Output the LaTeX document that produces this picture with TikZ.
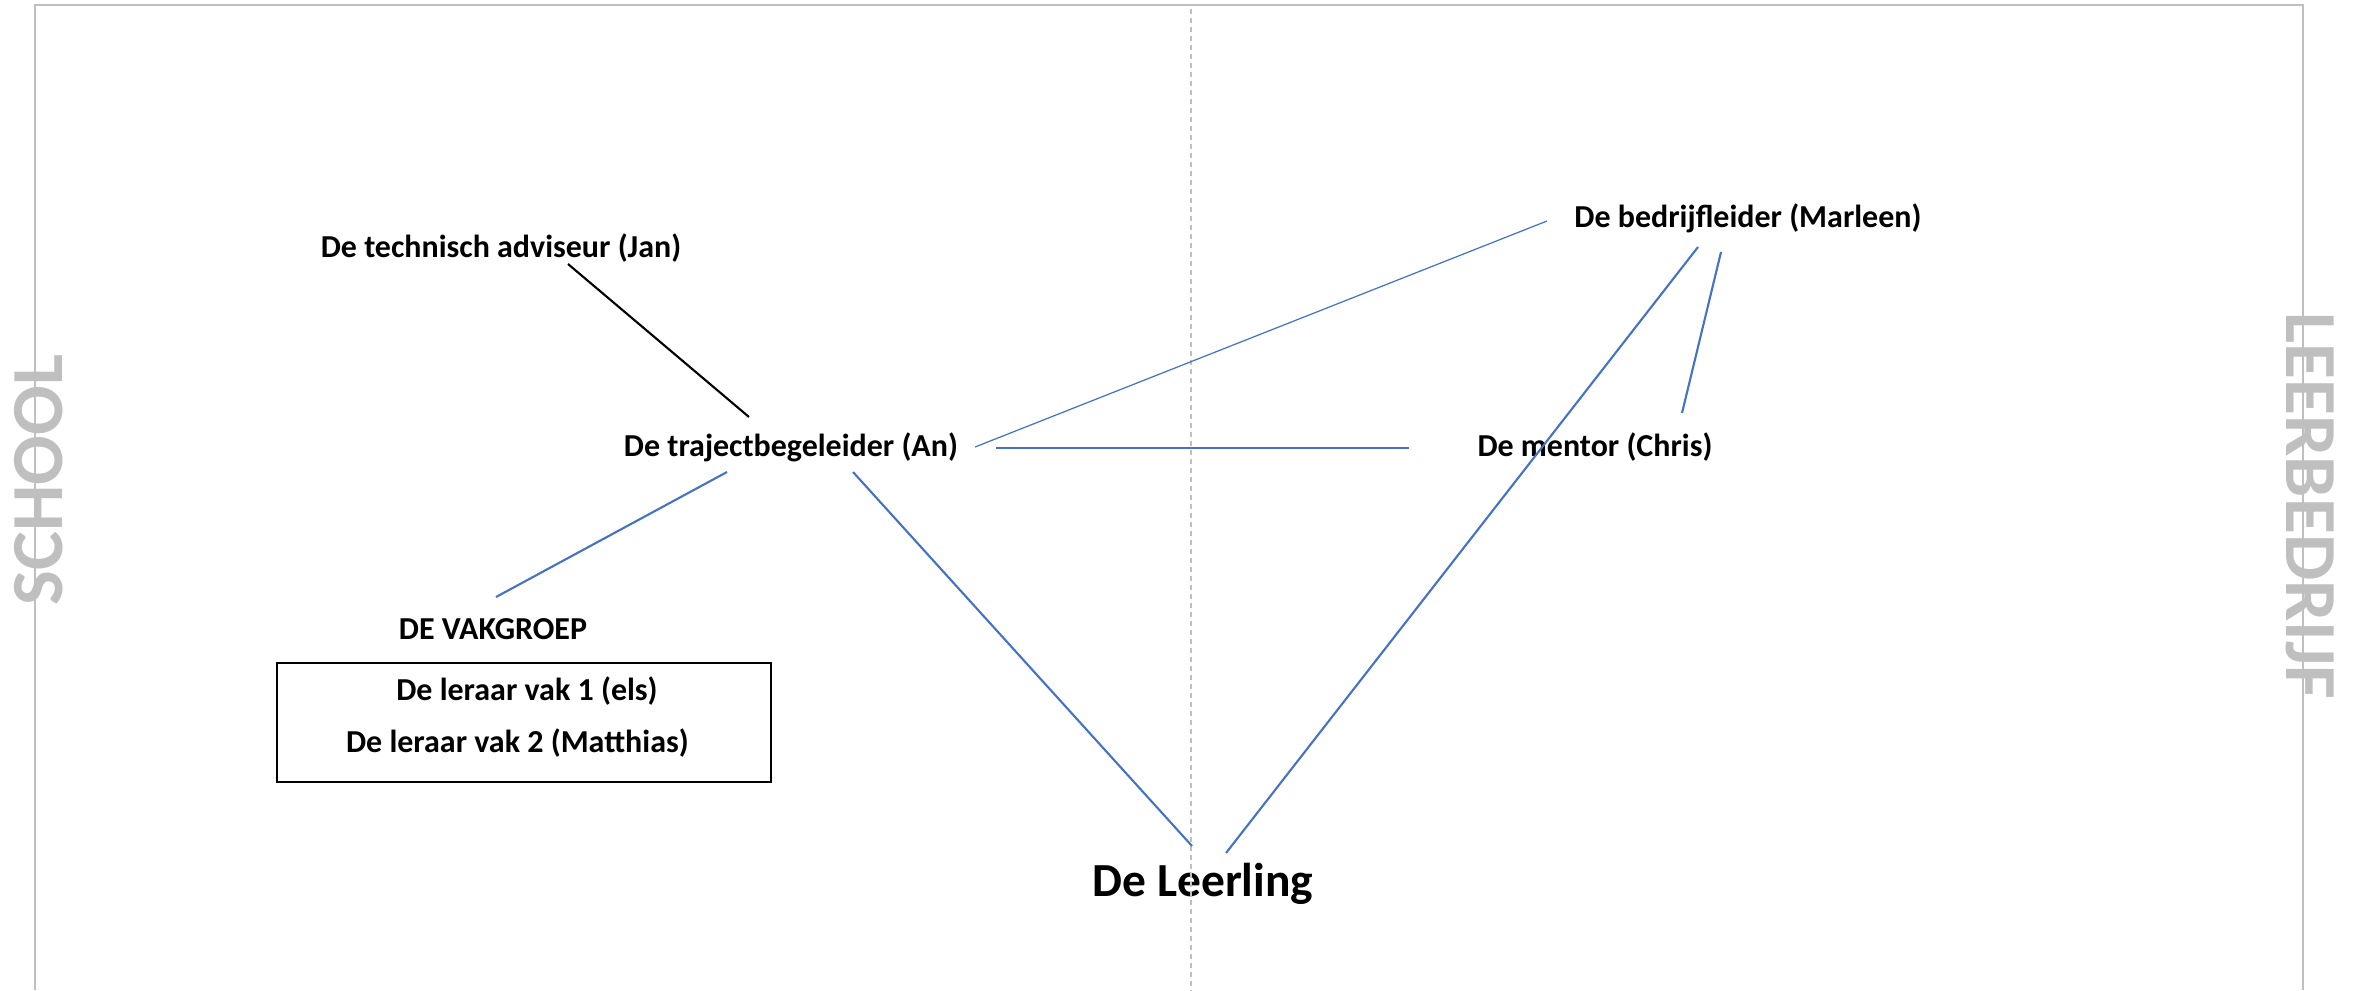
\documentclass[tikz,border=0pt]{standalone}
\usepackage{fontspec}
\setmainfont{Carlito}
\usepackage{tikz}
\usepackage{xcolor}

\definecolor{lineblue}{RGB}{68,114,196}
\definecolor{framegray}{RGB}{191,191,191}

\begin{document}
\begin{tikzpicture}[node distance=1.5cm, auto]
    % Define styles
    \tikzstyle{person} = [text centered, font=\fontsize{9.1}{11}\selectfont\bfseries]
    \tikzstyle{pupil} = [text centered, font=\fontsize{13.5}{16}\selectfont\bfseries]
    \tikzstyle{sidelabel} = [text=framegray, font=\fontsize{20.9}{25}\selectfont\bfseries]
    \tikzstyle{groupbox} = [rectangle, minimum width=4.94cm, minimum height=1.19cm, draw=black, line width=0.6pt]
    \tikzstyle{link} = [draw=lineblue, line width=0.6pt]
    \tikzstyle{thinlink} = [draw=lineblue, line width=0.35pt]
    \tikzstyle{advice} = [draw=black, line width=0.6pt]
    \tikzstyle{border} = [draw=framegray, line width=0.7pt]
    \tikzstyle{midline} = [draw=framegray, line width=0.35pt, dash pattern=on 0.05cm off 0.04cm]

    % Frame
    \useasboundingbox (0,0) rectangle (23.59,-9.90);
    \draw [border] (0.35,-9.90) -- (0.35,-0.05) -- (23.03,-0.05) -- (23.03,-9.90);

    % Nodes
    \node (traject_begel) [person] at (7.91,-4.47) {De trajectbegeleider (An)};
    \node (tech_adviseur) [person, above of=traject_begel, xshift=-2.90cm, yshift=0.49cm] {De technisch adviseur (Jan)};
    \node (mentor) [person, right of=traject_begel, xshift=6.54cm] {De mentor (Chris)};
    \node (bedrijf_leider) [person, above of=mentor, xshift=1.53cm, yshift=0.79cm] {De bedrijfleider (Marleen)};
    \node (vakgroep) [person, below of=traject_begel, xshift=-2.98cm, yshift=-0.32cm] {DE VAKGROEP};
    \node (vak_box) [groupbox, below of=vakgroep, xshift=0.306cm, yshift=0.565cm] {};
    \node (leraar_een) [person] at ([xshift=0.034cm, yshift=0.315cm]vak_box.center) {De leraar vak 1 (els)};
    \node (leraar_twee) [person] at ([xshift=-0.062cm, yshift=-0.205cm]vak_box.center) {De leraar vak 2 (Matthias)};
    \node (leerling) [pupil] at (12.03,-8.84) {De Leerling};

    % Sides
    \node (school) [sidelabel, rotate=90] at (0.385,-4.80) {SCHOOL};
    \node (leerbedrijf) [sidelabel, rotate=-90] at (23.10,-5.06) {LEERBEDRIJF};
    \draw [midline] (11.91,-0.09) -- (11.91,-9.90);

    % Lines
    \draw [advice] ([shift={(0.67,-0.16)}]tech_adviseur.center) -- ([shift={(-0.42,0.30)}]traject_begel.center);
    \draw [thinlink] ([shift={(1.84,0)}]traject_begel.center) -- ([shift={(-2.01,-0.03)}]bedrijf_leider.center);
    \draw [link, line width=0.7pt] ([shift={(2.05,-0.01)}]traject_begel.center) -- ([shift={(-1.86,-0.01)}]mentor.center);
    \draw [link] ([shift={(-0.64,-0.25)}]traject_begel.center) -- ([shift={(0.03,0.32)}]vakgroep.center);
    \draw [link] ([shift={(0.62,-0.25)}]traject_begel.center) -- ([shift={(-0.11,0.38)}]leerling.center);
    \draw [link] ([shift={(-0.50,-0.29)}]bedrijf_leider.center) -- ([shift={(0.23,0.31)}]leerling.center);
    \draw [link] ([shift={(-0.27,-0.34)}]bedrijf_leider.center) -- ([shift={(0.87,0.34)}]mentor.center);
\end{tikzpicture}
\end{document}
